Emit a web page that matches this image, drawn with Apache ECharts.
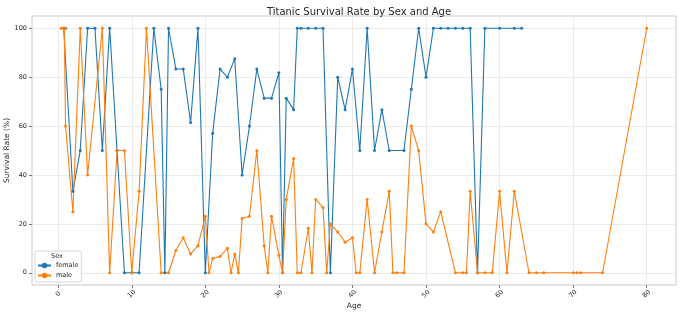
<!DOCTYPE html>
<html>
<head>
<meta charset="utf-8">
<script src="https://cdn.jsdelivr.net/npm/echarts@6/dist/echarts.min.js"></script>
<style>
  html, body { margin: 0; padding: 0; background: #fff; }
  #chart { width: 680px; height: 315px; }
</style>
</head>
<body>
<div id="chart"></div>
<script>
// survival rate (%) per age
var femaleAges = [0.75, 1, 2, 3, 4, 5, 6, 7, 8, 9, 10, 11, 13, 14, 14.5, 15, 16, 17, 18, 19, 20, 21, 22, 23, 24, 25, 26, 27, 28, 29, 30, 30.5, 31, 32, 32.5, 33, 34, 35, 36, 37, 38, 39, 40, 41, 42, 43, 44, 45, 47, 48, 49, 50, 51, 52, 53, 54, 55, 56, 57, 58, 60, 62, 63];
var femaleRates = [100, 100, 33.3, 50, 100, 100, 50, 100, 50, 0, 0, 0, 100, 75, 0, 100, 83.3, 83.3, 61.5, 100, 0, 57.1, 83.3, 80, 87.5, 40, 60, 83.3, 71.4, 71.4, 81.8, 0, 71.4, 66.7, 100, 100, 100, 100, 100, 0, 80, 66.7, 83.3, 50, 100, 50, 66.7, 50, 50, 75, 100, 80, 100, 100, 100, 100, 100, 100, 0, 100, 100, 100, 100];

var maleAges = [0.42, 0.67, 0.83, 0.92, 1, 2, 3, 4, 6, 7, 8, 9, 10, 11, 12, 14, 15, 16, 17, 18, 19, 20, 20.5, 21, 22, 23, 23.5, 24, 24.5, 25, 26, 27, 28, 28.5, 29, 30, 30.5, 31, 32, 32.5, 33, 34, 34.5, 35, 36, 36.5, 37, 38, 39, 40, 40.5, 41, 42, 43, 44, 45, 45.5, 46, 47, 48, 49, 50, 51, 52, 54, 55, 55.5, 56, 57, 58, 59, 60, 61, 62, 64, 65, 66, 70, 70.5, 71, 74, 80];
var maleRates = [100, 100, 100, 100, 60, 25, 100, 40, 100, 0, 50, 50, 0, 33.3, 100, 0, 0, 9.09, 14.3, 7.69, 11.1, 23.1, 0, 5.88, 6.67, 10, 0, 7.69, 0, 22.2, 23.1, 50, 11.1, 0, 23.1, 7.14, 0, 30, 46.7, 0, 0, 18.2, 0, 30, 26.7, 0, 20, 16.7, 12.5, 14.3, 0, 0, 30, 0, 16.7, 33.3, 0, 0, 0, 60, 50, 20, 16.7, 25, 0, 0, 0, 33.3, 0, 0, 0, 33.3, 0, 33.3, 0, 0, 0, 0, 0, 0, 0, 100];

var xTicks = [0, 10, 20, 30, 40, 50, 60, 70, 80];
var yTicks = [0, 20, 40, 60, 80, 100];

function pairs(xs, ys) {
  return xs.map(function (x, i) { return [x, ys[i]]; });
}

// matplotlib style 5% margins
var allAges = femaleAges.concat(maleAges);
var aMin = Math.min.apply(null, allAges), aMax = Math.max.apply(null, allAges);
var aPad = (aMax - aMin) * 0.05;

var chart = echarts.init(document.getElementById('chart'));
var font = 'DejaVu Sans';

var option = {
  animation: false,
  backgroundColor: '#fff',
  textStyle: { fontFamily: font },
  title: {
    text: 'Titanic Survival Rate by Sex and Age',
    left: 354, top: 2, textAlign: 'center',
    textStyle: { fontSize: 10, fontWeight: 'normal', color: '#262626', fontFamily: font }
  },
  grid: {
    left: 32, right: 4, top: 16, bottom: 30,
    outerBoundsMode: 'none', containLabel: false,
    show: true, borderColor: '#c8c8c8', borderWidth: 1
  },
  legend: {
    orient: 'vertical', left: 35, top: 251,
    padding: [11, 3, 3, 2],
    itemWidth: 13, itemHeight: 7, itemGap: 3,
    backgroundColor: 'rgba(255,255,255,0.8)',
    borderColor: '#d6d6d6', borderWidth: 1, borderRadius: 2,
    textStyle: { fontSize: 6.5, color: '#262626', fontFamily: font },
    data: ['female', 'male']
  },
  graphic: [{
    type: 'text', left: 51, top: 253, z: 100,
    style: { text: 'Sex', fontSize: 6.5, fill: '#262626', fontFamily: font }
  }],
  xAxis: {
    type: 'value', min: aMin - aPad, max: aMax + aPad,
    name: 'Age', nameLocation: 'middle', nameGap: 17, nameMoveOverlap: false,
    nameTextStyle: { fontSize: 7.5, color: '#262626' },
    axisLine: { show: false, onZero: false },
    axisTick: { show: true, length: 3, customValues: xTicks, lineStyle: { color: '#777' } },
    axisLabel: {
      customValues: xTicks, rotate: 45, margin: 9, align: 'center', verticalAlign: 'middle',
      fontSize: 6.5, color: '#262626', showMinLabel: true, showMaxLabel: true, hideOverlap: false
    },
    splitLine: { show: true, lineStyle: { color: '#ebebeb', width: 1 } }
  },
  yAxis: {
    type: 'value', min: -5, max: 105,
    name: 'Survival Rate (%)', nameLocation: 'middle', nameGap: 21, nameMoveOverlap: false,
    nameTextStyle: { fontSize: 7.5, color: '#262626' },
    axisLine: { show: false, onZero: false },
    axisTick: { show: true, length: 3, customValues: yTicks, lineStyle: { color: '#777' } },
    axisLabel: {
      customValues: yTicks, margin: 5, fontSize: 6.5, color: '#262626',
      showMinLabel: true, showMaxLabel: true, hideOverlap: false
    },
    splitLine: { show: true, lineStyle: { color: '#ebebeb', width: 1 } }
  },
  series: [
    {
      name: 'female', type: 'line', data: pairs(femaleAges, femaleRates),
      symbol: 'circle', symbolSize: 3, color: '#1f77b4',
      lineStyle: { width: 1.1 }, clip: false
    },
    {
      name: 'male', type: 'line', data: pairs(maleAges, maleRates),
      symbol: 'circle', symbolSize: 3, color: '#ff7f0e',
      lineStyle: { width: 1.1 }, clip: false
    }
  ]
};

chart.setOption(option);
</script>
</body>
</html>
